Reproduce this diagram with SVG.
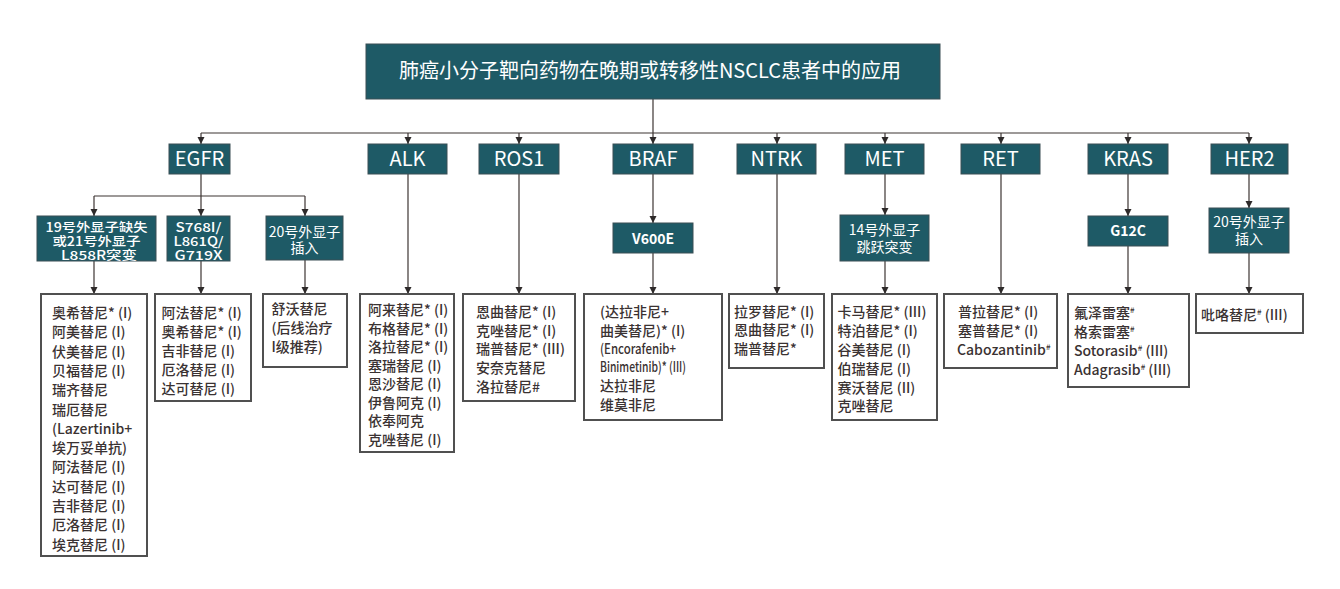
<svg xmlns="http://www.w3.org/2000/svg" width="1340" height="589" viewBox="0 0 1340 589">
<defs>
<marker id="arr" markerWidth="8" markerHeight="8" refX="7" refY="4" orient="auto" markerUnits="userSpaceOnUse">
<path d="M0,0.5 L7,4 L0,7.5 Z" fill="#2e2a2a"/>
</marker>
<style>
.hb{fill:#1e5a66;stroke:#3a4f55;stroke-width:1}
.lb{fill:#ffffff;stroke:#505050;stroke-width:2}
.ht{font-family:"Noto Sans CJK SC","Noto Sans",sans-serif;fill:#ffffff;text-anchor:middle}
.t1{font-size:20px}
.t2{font-size:20px}
.t3{font-size:14px}
.t4{font-size:12.5px;font-weight:500}
.lt{font-family:"Noto Sans CJK SC","Noto Sans",sans-serif;font-size:14px;font-weight:500;fill:#3a3232}
.c{fill:none;stroke:#3d3533;stroke-width:1.2}
.ca{fill:none;stroke:#3d3533;stroke-width:1.2;marker-end:url(#arr)}
</style>
</defs>
<rect width="1340" height="589" fill="#ffffff"/>

<g id="connectors">
<line class="c" x1="653" y1="99" x2="653" y2="133"/>
<line class="c" x1="201" y1="133" x2="1249" y2="133"/>
<line class="ca" x1="201" y1="133" x2="201" y2="144"/>
<line class="ca" x1="408" y1="133" x2="408" y2="144"/>
<line class="ca" x1="519" y1="133" x2="519" y2="144"/>
<line class="ca" x1="653" y1="133" x2="653" y2="144"/>
<line class="ca" x1="777" y1="133" x2="777" y2="144"/>
<line class="ca" x1="885" y1="133" x2="885" y2="144"/>
<line class="ca" x1="1001" y1="133" x2="1001" y2="144"/>
<line class="ca" x1="1128" y1="133" x2="1128" y2="144"/>
<line class="ca" x1="1249" y1="133" x2="1249" y2="144"/>
<line class="c" x1="201" y1="174" x2="201" y2="196"/>
<line class="c" x1="94" y1="196" x2="305" y2="196"/>
<line class="ca" x1="94" y1="196" x2="94" y2="216"/>
<line class="ca" x1="201" y1="196" x2="201" y2="216"/>
<line class="ca" x1="305" y1="196" x2="305" y2="216"/>
<line class="ca" x1="94" y1="261" x2="94" y2="294"/>
<line class="ca" x1="201" y1="261" x2="201" y2="294"/>
<line class="ca" x1="305" y1="260" x2="305" y2="294"/>
<line class="ca" x1="408" y1="174" x2="408" y2="294"/>
<line class="ca" x1="519" y1="174" x2="519" y2="294"/>
<line class="ca" x1="653" y1="174" x2="653" y2="223"/>
<line class="ca" x1="653" y1="253" x2="653" y2="294"/>
<line class="ca" x1="777" y1="174" x2="777" y2="294"/>
<line class="ca" x1="885" y1="174" x2="885" y2="215"/>
<line class="ca" x1="885" y1="261" x2="885" y2="294"/>
<line class="ca" x1="1001" y1="174" x2="1001" y2="294"/>
<line class="ca" x1="1128" y1="174" x2="1128" y2="216"/>
<line class="ca" x1="1128" y1="246" x2="1128" y2="294"/>
<line class="ca" x1="1249" y1="174" x2="1249" y2="208"/>
<line class="ca" x1="1249" y1="253" x2="1249" y2="294"/>
</g>

<g id="title">
<rect class="hb" x="366" y="44" width="574" height="55"/>
<text class="ht t1" x="650" y="78">肺癌小分子靶向药物在晚期或转移性NSCLC患者中的应用</text>
</g>

<g id="egfr"><rect class="hb" x="169" y="144" width="61" height="30"/><text class="ht t2" x="199.5" y="166">EGFR</text></g>
<g id="alk"><rect class="hb" x="368" y="144" width="79" height="30"/><text class="ht t2" x="407.5" y="166">ALK</text></g>
<g id="ros1"><rect class="hb" x="479" y="144" width="80" height="30"/><text class="ht t2" x="519" y="166">ROS1</text></g>
<g id="braf"><rect class="hb" x="613" y="144" width="80" height="30"/><text class="ht t2" x="653" y="166">BRAF</text></g>
<g id="ntrk"><rect class="hb" x="737" y="144" width="79" height="30"/><text class="ht t2" x="776.5" y="166">NTRK</text></g>
<g id="met"><rect class="hb" x="845" y="144" width="79" height="30"/><text class="ht t2" x="884.5" y="166">MET</text></g>
<g id="ret"><rect class="hb" x="961" y="144" width="79" height="30"/><text class="ht t2" x="1000.5" y="166">RET</text></g>
<g id="kras"><rect class="hb" x="1088" y="144" width="80" height="30"/><text class="ht t2" x="1128" y="166">KRAS</text></g>
<g id="her2"><rect class="hb" x="1211" y="144" width="77" height="30"/><text class="ht t2" x="1249.5" y="166">HER2</text></g>

<g id="egfr-19-21"><rect class="hb" x="37" y="216" width="119" height="45"/>
<text class="ht t4"><tspan x="96.5" y="232" textLength="102" lengthAdjust="spacingAndGlyphs">19号外显子缺失</tspan><tspan x="96.5" y="246" textLength="88" lengthAdjust="spacingAndGlyphs">或21号外显子</tspan><tspan x="99" y="260" textLength="76" lengthAdjust="spacingAndGlyphs">L858R突变</tspan></text></g>
<g id="egfr-s768i"><rect class="hb" x="167" y="216" width="63" height="45"/>
<text class="ht t4"><tspan x="198.5" y="232" textLength="46" lengthAdjust="spacingAndGlyphs">S768I/</tspan><tspan x="198.5" y="246" textLength="50" lengthAdjust="spacingAndGlyphs">L861Q/</tspan><tspan x="198.5" y="260" textLength="48" lengthAdjust="spacingAndGlyphs">G719X</tspan></text></g>
<g id="egfr-ex20"><rect class="hb" x="266" y="216" width="77" height="44"/>
<text class="ht t3"><tspan x="304.5" y="236.5">20号外显子</tspan><tspan x="304.5" y="253">插入</tspan></text></g>
<g id="v600e"><rect class="hb" x="613" y="223" width="80" height="30"/><text class="ht t3" x="653" y="243.5" font-weight="bold">V600E</text></g>
<g id="met-ex14"><rect class="hb" x="840" y="215" width="89" height="46"/>
<text class="ht t3"><tspan x="884.5" y="235">14号外显子</tspan><tspan x="884.5" y="252">跳跃突变</tspan></text></g>
<g id="g12c"><rect class="hb" x="1088" y="216" width="80" height="30"/><text class="ht t3" x="1128" y="236" font-weight="bold">G12C</text></g>
<g id="her2-ex20"><rect class="hb" x="1209" y="208" width="80" height="45"/>
<text class="ht t3"><tspan x="1249" y="226.5">20号外显子</tspan><tspan x="1249" y="244">插入</tspan></text></g>

<g id="list-egfr-19-21"><rect class="lb" x="41" y="294" width="106" height="262"/>
<text class="lt">
<tspan x="52" y="318">奥希替尼* (I)</tspan>
<tspan x="52" y="337.3">阿美替尼 (I)</tspan>
<tspan x="52" y="356.6">伏美替尼 (I)</tspan>
<tspan x="52" y="375.9">贝福替尼 (I)</tspan>
<tspan x="52" y="395.2">瑞齐替尼</tspan>
<tspan x="52" y="414.5">瑞厄替尼</tspan>
<tspan x="52" y="433.8">(Lazertinib+</tspan>
<tspan x="52" y="453.1">埃万妥单抗)</tspan>
<tspan x="52" y="472.4">阿法替尼 (I)</tspan>
<tspan x="52" y="491.7">达可替尼 (I)</tspan>
<tspan x="52" y="511">吉非替尼 (I)</tspan>
<tspan x="52" y="530.3">厄洛替尼 (I)</tspan>
<tspan x="52" y="549.6">埃克替尼 (I)</tspan>
</text></g>

<g id="list-egfr-s768i"><rect class="lb" x="155" y="294" width="96" height="107"/>
<text class="lt">
<tspan x="161.5" y="318">阿法替尼* (I)</tspan>
<tspan x="161.5" y="337">奥希替尼* (I)</tspan>
<tspan x="161.5" y="356">吉非替尼 (I)</tspan>
<tspan x="161.5" y="375">厄洛替尼 (I)</tspan>
<tspan x="161.5" y="394">达可替尼 (I)</tspan>
</text></g>

<g id="list-egfr-ex20"><rect class="lb" x="263" y="294" width="84" height="73"/>
<text class="lt">
<tspan x="271.5" y="314">舒沃替尼</tspan>
<tspan x="271.5" y="333">(后线治疗</tspan>
<tspan x="271.5" y="352">I级推荐)</tspan>
</text></g>

<g id="list-alk"><rect class="lb" x="360" y="294" width="94" height="158"/>
<text class="lt">
<tspan x="368" y="315">阿来替尼* (I)</tspan>
<tspan x="368" y="333.5">布格替尼* (I)</tspan>
<tspan x="368" y="352">洛拉替尼* (I)</tspan>
<tspan x="368" y="370.5">塞瑞替尼 (I)</tspan>
<tspan x="368" y="389">恩沙替尼 (I)</tspan>
<tspan x="368" y="407.5">伊鲁阿克 (I)</tspan>
<tspan x="368" y="426">依奉阿克</tspan>
<tspan x="368" y="444.5">克唑替尼 (I)</tspan>
</text></g>

<g id="list-ros1"><rect class="lb" x="463" y="294" width="112" height="107"/>
<text class="lt">
<tspan x="476" y="317">恩曲替尼* (I)</tspan>
<tspan x="476" y="335.7">克唑替尼* (I)</tspan>
<tspan x="476" y="354.4">瑞普替尼* (III)</tspan>
<tspan x="476" y="373.1">安奈克替尼</tspan>
<tspan x="476" y="391.8">洛拉替尼#</tspan>
</text></g>

<g id="list-braf"><rect class="lb" x="584" y="294" width="138" height="126"/>
<text class="lt">
<tspan x="600" y="316.5">(达拉非尼+</tspan>
<tspan x="600" y="335.5">曲美替尼)* (I)</tspan>
<tspan x="600" y="353.5" textLength="76" lengthAdjust="spacingAndGlyphs">(Encorafenib+</tspan>
<tspan x="600" y="371.5" textLength="86" lengthAdjust="spacingAndGlyphs">Binimetinib)* (III)</tspan>
<tspan x="600" y="391">达拉非尼</tspan>
<tspan x="600" y="410">维莫非尼</tspan>
</text></g>

<g id="list-ntrk"><rect class="lb" x="729" y="294" width="95" height="74"/>
<text class="lt">
<tspan x="734" y="316.5">拉罗替尼* (I)</tspan>
<tspan x="734" y="335">恩曲替尼* (I)</tspan>
<tspan x="734" y="353.5">瑞普替尼*</tspan>
</text></g>

<g id="list-met"><rect class="lb" x="832" y="294" width="105" height="126"/>
<text class="lt">
<tspan x="837.5" y="317">卡马替尼* (III)</tspan>
<tspan x="837.5" y="336">特泊替尼* (I)</tspan>
<tspan x="837.5" y="355">谷美替尼 (I)</tspan>
<tspan x="837.5" y="373.5">伯瑞替尼 (I)</tspan>
<tspan x="837.5" y="392.5">赛沃替尼 (II)</tspan>
<tspan x="837.5" y="411">克唑替尼</tspan>
</text></g>

<g id="list-ret"><rect class="lb" x="944" y="294" width="113" height="74"/>
<text class="lt">
<tspan x="958" y="317">普拉替尼* (I)</tspan>
<tspan x="958" y="336">塞普替尼* (I)</tspan>
<tspan x="957" y="355">Cabozantinib<tspan font-size="8" dy="-5">#</tspan></tspan>
</text></g>

<g id="list-kras"><rect class="lb" x="1068" y="294" width="121" height="93"/>
<text class="lt">
<tspan x="1074" y="318">氟泽雷塞<tspan font-size="8" dy="-5">#</tspan></tspan>
<tspan x="1074" y="337">格索雷塞<tspan font-size="8" dy="-5">#</tspan></tspan>
<tspan x="1074" y="356">Sotorasib<tspan font-size="8" dy="-5">#</tspan><tspan dy="5"> (III)</tspan></tspan>
<tspan x="1074" y="375">Adagrasib<tspan font-size="8" dy="-5">#</tspan><tspan dy="5"> (III)</tspan></tspan>
</text></g>

<g id="list-her2"><rect class="lb" x="1196" y="294" width="107" height="39"/>
<text class="lt">
<tspan x="1201" y="320">吡咯替尼<tspan font-size="8" dy="-5">#</tspan><tspan dy="5"> (III)</tspan></tspan>
</text></g>
</svg>
